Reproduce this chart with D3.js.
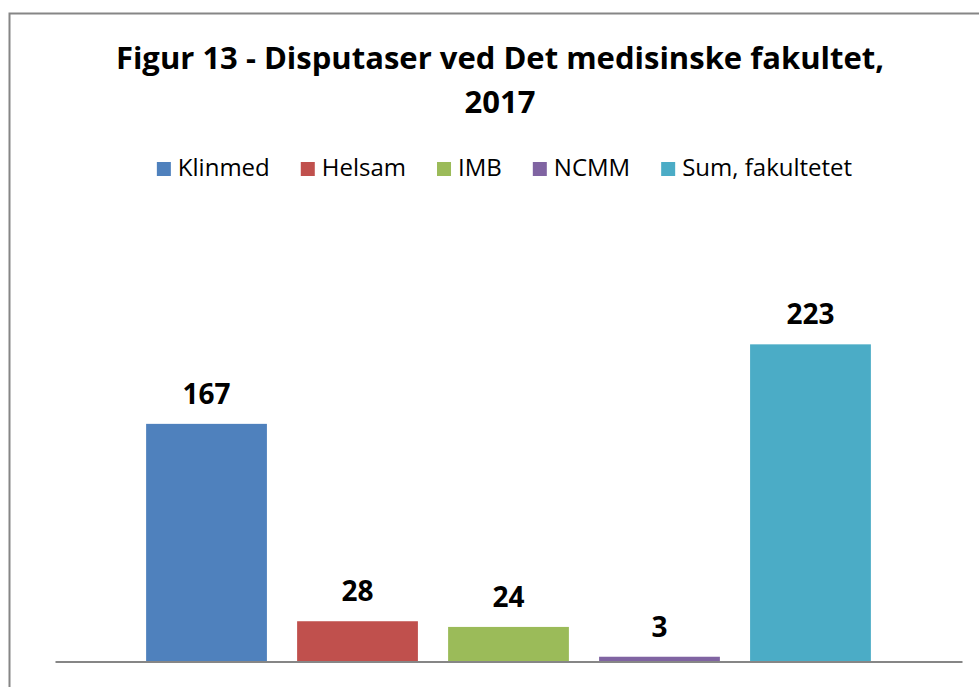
<!DOCTYPE html>
<html>
<head>
<meta charset="utf-8">
<script src="https://cdn.jsdelivr.net/npm/d3@7"></script>
<style>
  html, body { margin: 0; padding: 0; background: #fff; }
  svg { display: block; }
  text { font-family: "Open Sans", Lato, sans-serif; fill: #000; }
</style>
</head>
<body>
<svg id="chart" width="979" height="687"></svg>
<script>
const titleLines = ["Figur 13 - Disputaser ved Det medisinske fakultet,", "2017"];
const series = ["Klinmed", "Helsam", "IMB", "NCMM", "Sum, fakultetet"];
const values = [167, 28, 24, 3, 223];
const colors = ["#4F81BD", "#C0504D", "#9BBB59", "#8064A2", "#4BACC6"];
const yDomain = [0, 250];

const svg = d3.select("#chart");

// outer chart border (right/bottom edges fall outside the picture)
svg.append("rect")
  .attr("x", 9.5).attr("y", 13.5)
  .attr("width", 1000).attr("height", 700)
  .attr("fill", "#fff")
  .attr("stroke", "#868686")
  .attr("stroke-width", 2);

// title
const title = svg.append("text")
  .attr("text-anchor", "middle")
  .style("font-weight", "bold")
  .style("font-size", "31px");
title.selectAll("tspan").data(titleLines).join("tspan")
  .attr("x", 500)
  .attr("y", (d, i) => 69 + i * 44)
  .text(d => d);

// legend
const legend = svg.append("g");
const items = legend.selectAll("g").data(series).join("g");
items.append("rect")
  .attr("width", 14).attr("height", 14)
  .attr("y", 162)
  .attr("fill", (d, i) => colors[i]);
items.append("text")
  .attr("y", 176)
  .style("font-size", "24px")
  .text(d => d);
let xcur = 0;
const offsets = [];
items.each(function(d, i) {
  const tw = d3.select(this).select("text").node().getComputedTextLength();
  offsets.push(xcur);
  xcur += 14 + 7 + tw + 31;
});
const legendWidth = xcur - 31;
const legendStart = 504.5 - legendWidth / 2;
items.each(function(d, i) {
  const g = d3.select(this);
  g.select("rect").attr("x", legendStart + offsets[i]);
  g.select("text").attr("x", legendStart + offsets[i] + 21);
});

// scales
const x = d3.scaleBand()
  .domain(series)
  .range([55, 962])
  .paddingInner(0.2)
  .paddingOuter(0.6035);
const y = d3.scaleLinear().domain(yDomain).range([661, 306]);

// bars
svg.append("g").selectAll("rect").data(series).join("rect")
  .attr("x", d => x(d))
  .attr("width", x.bandwidth())
  .attr("y", (d, i) => y(values[i]))
  .attr("height", (d, i) => y(0) - y(values[i]))
  .attr("fill", (d, i) => colors[i]);

// value labels
svg.append("g").selectAll("text").data(series).join("text")
  .attr("x", d => x(d) + x.bandwidth() / 2)
  .attr("y", (d, i) => y(values[i]) - 20)
  .attr("text-anchor", "middle")
  .style("font-weight", "bold")
  .style("font-size", "28px")
  .text((d, i) => values[i]);

// category axis line (no ticks/labels)
const xAxis = d3.axisBottom(d3.scaleLinear().range([55, 962])).tickValues([]).tickSizeOuter(0);
const ax = svg.append("g").attr("transform", `translate(0,${y(0)})`).call(xAxis);
ax.select(".domain").attr("stroke", "#868686").attr("stroke-width", 2).attr("transform", "translate(0,0.5)");
</script>
</body>
</html>
